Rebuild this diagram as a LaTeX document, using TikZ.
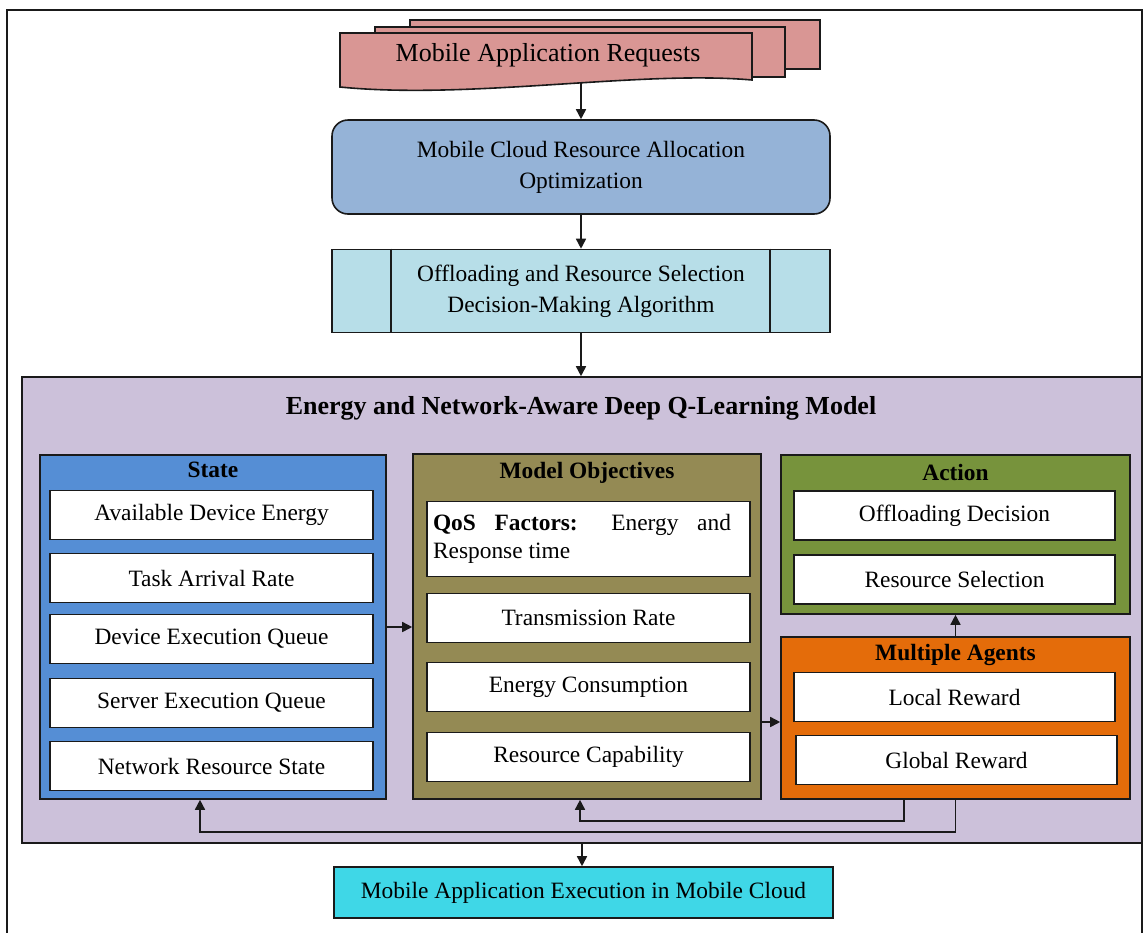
\documentclass[tikz,border=0pt]{standalone}
\usepackage{fontspec}
\setmainfont{Liberation Serif}
\usetikzlibrary{arrows.meta,calc,positioning}
\definecolor{ink}{HTML}{1A1A1A}
\definecolor{reqc}{HTML}{D99694}
\definecolor{allocc}{HTML}{95B3D7}
\definecolor{algoc}{HTML}{B7DEE8}
\definecolor{modelc}{HTML}{CCC1DA}
\definecolor{statec}{HTML}{558ED5}
\definecolor{objc}{HTML}{948A54}
\definecolor{actc}{HTML}{77933C}
\definecolor{agentc}{HTML}{E46C0A}
\definecolor{execc}{HTML}{3FD7E7}
\newcommand{\boxfont}{\fontsize{11.7}{15.5}\selectfont}
\newcommand{\bigfont}{\fontsize{13}{16}\selectfont}
\tikzset{
  blk/.style={draw=ink,line width=0.8pt,inner sep=0pt,align=center,font=\boxfont},
  item/.style={blk,fill=white,minimum width=161.5pt,minimum height=24.5pt},
  grp/.style={draw=ink,line width=0.8pt,inner sep=0pt},
  ttl/.style={font=\boxfont\bfseries,inner sep=0pt},
  link/.style={ink,line width=0.8pt},
  flow/.style={link,-{Triangle[length=5pt,width=5pt]}},
}

\begin{document}
\begin{tikzpicture}[x=0.5pt,y=-0.5pt]
  \useasboundingbox (0,0) rectangle (1144,932);
  \draw[ink,line width=0.6pt] (7,10) rectangle (1142,960);
  % ---------- requests (stacked documents) ----------
  \draw[link,fill=reqc] (410,20) rectangle (820,69);
  \draw[link,fill=reqc] (375,27) rectangle (785,77);
  \draw[link,fill=reqc] (340,33) -- (752,33) -- (752,80)
    .. controls (640,70) and (470,100) .. (340,87) -- cycle;
  \node[font=\bigfont] (req) at (548,55) {Mobile Application Requests};
  \coordinate (reqbot) at (581,83);
  % ---------- optimization and algorithm ----------
  \node[blk,fill=allocc,rounded corners=8pt,minimum width=249pt,minimum height=47pt] (alloc)
    at (581,167) {Mobile Cloud Resource Allocation\\Optimization};
  \node[blk,fill=algoc,minimum width=249pt,minimum height=41.5pt] (algo)
    at (581,291) {Offloading and Resource Selection\\Decision-Making Algorithm};
  \draw[link] ([xshift=30pt]algo.north west) -- ([xshift=30pt]algo.south west);
  \draw[link] ([xshift=-30.5pt]algo.north east) -- ([xshift=-30.5pt]algo.south east);
  % ---------- deep Q-learning model ----------
  \node[grp,fill=modelc,minimum width=560pt,minimum height=233pt] (model) at (582,610) {};
  \node[font=\bigfont\bfseries] (modelttl) at (581,408) {Energy and Network-Aware Deep Q-Learning Model};
  % state
  \node[grp,fill=statec,minimum width=173pt,minimum height=172pt] (state) at (213,627) {};
  \node[ttl] (statettl) at (213,470) {State};
  \foreach \y/\t/\n in {515/Available Device Energy/ade,578/Task Arrival Rate/tar,
      639/Device Execution Queue/deq,703/Server Execution Queue/seq,766/Network Resource State/nrs}
    \node[item] (\n) at (211.5,\y) {\t};
  % objectives
  \node[grp,fill=objc,minimum width=174pt,minimum height=172.5pt] (obj) at (587,626.5) {};
  \node[ttl] (objttl) at (587,473) {Model Objectives};
  \node[item,minimum height=37.5pt] (qos) at (588.5,539)
    {\parbox{149pt}{\fontsize{11.7}{14}\selectfont\textbf{QoS Factors:} Energy and\linebreak Response time}\hspace*{6.5pt}};
  \foreach \y/\t/\n in {618/Transmission Rate/trr,687/Energy Consumption/enc,757/Resource Capability/rsc}
    \node[item] (\n) at (588.5,\y) {\t};
  % action
  \node[grp,fill=actc,minimum width=174.5pt,minimum height=79.5pt] (action) at (955.5,534.5) {};
  \node[ttl] (actttl) at (955.5,472) {Action};
  \node[item,minimum width=160.5pt] (offd) at (954.5,515.5) {Offloading Decision};
  \node[item,minimum width=160.5pt] (ress) at (954.5,579.5) {Resource Selection};
  % agents
  \node[grp,fill=agentc,minimum width=174.5pt,minimum height=81pt] (agents) at (955.5,718) {};
  \node[ttl] (agttl) at (955.5,655) {Multiple Agents};
  \node[item,minimum width=160.5pt] (locr) at (954.5,697) {Local Reward};
  \node[item,minimum width=160.5pt] (glor) at (956.5,760) {Global Reward};
  % ---------- execution ----------
  \node[blk,fill=execc,minimum width=249.5pt,minimum height=25.5pt] (exec)
    at (583.5,892.5) {Mobile Application Execution in Mobile Cloud};
  % ---------- connectors ----------
  \draw[flow] (reqbot) -- (alloc.north);
  \draw[flow] (alloc.south) -- (algo.north);
  \draw[flow] (algo.south) -- (algo.south |- model.north);
  \draw[flow] (state.east) -- (state.east -| obj.west);
  \draw[flow] ([yshift=-2pt]agents.west -| obj.east) -- ([yshift=-2pt]agents.west);
  \draw[flow] (agents.north) -- (action.south);
  \draw[flow] ([xshift=-25.75pt]agents.south) -- ++(0,21) -| ([xshift=-3.5pt]obj.south);
  \draw[flow] (agents.south) -- ++(0,32) -| ([xshift=-6.5pt]state.south);
  \draw[flow] (model.south) -- (model.south |- exec.north);
\end{tikzpicture}
\end{document}
